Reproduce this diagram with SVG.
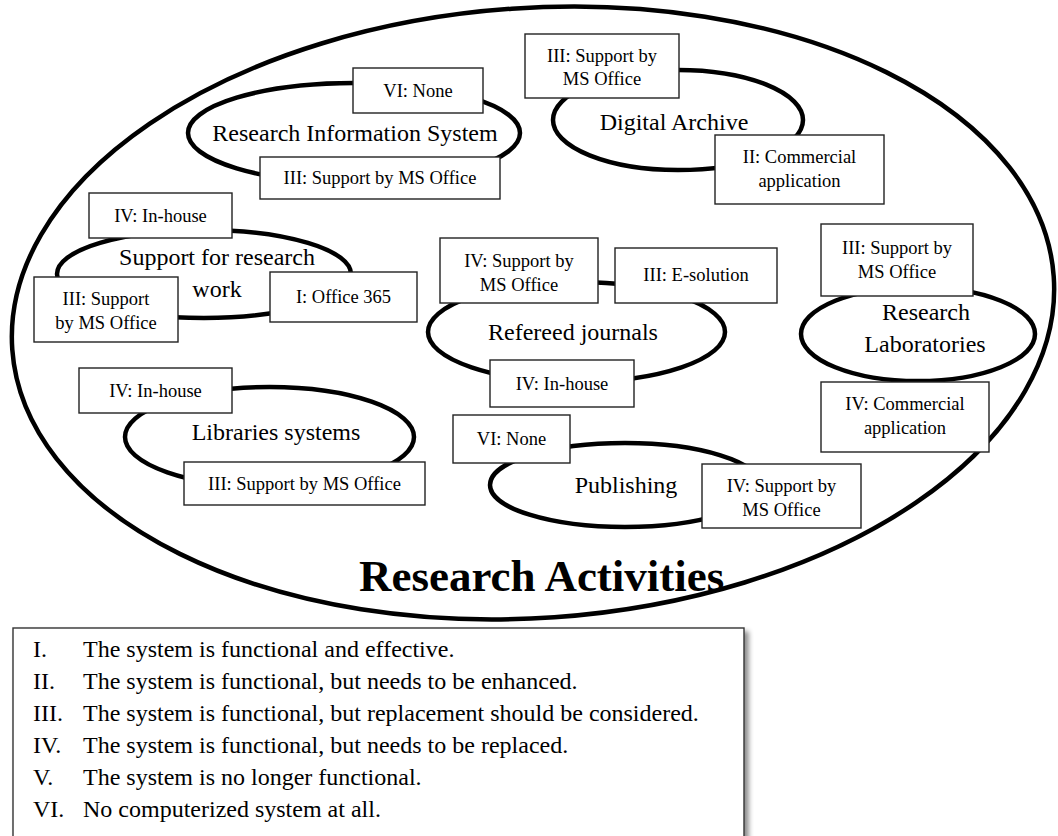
<svg xmlns="http://www.w3.org/2000/svg" width="1058" height="836" viewBox="0 0 1058 836">
<defs>
<style>
text{font-family:"Liberation Serif","Times New Roman",serif;fill:#000}
.sys{fill:#fff;stroke:#000;stroke-width:4.5}
.box{fill:#fff;stroke:#222;stroke-width:1.4}
.lbl{font-size:18.5px;text-anchor:middle}
.nm{font-size:24px;text-anchor:middle}
.leg{font-size:24px}
.title{font-size:45px;font-weight:bold}
</style>
<filter id="sh" x="-5%" y="-5%" width="115%" height="120%">
<feDropShadow dx="4" dy="4" stdDeviation="2.5" flood-color="#000" flood-opacity="0.45"/>
</filter>
</defs>
<rect width="1058" height="836" fill="#fff"/>
<g id="research-activities">
<ellipse cx="533" cy="313" rx="522" ry="305" transform="rotate(-4 533 313)" fill="none" stroke="#000" stroke-width="4.5"/>
<text class="title" x="359" y="591">Research Activities</text>
</g>
<g id="connectors"></g>
<g id="research-information-system">
<ellipse class="sys" cx="354" cy="133" rx="166" ry="50"/>
<text class="nm" x="355" y="141">Research Information System</text>
<rect class="box" x="353" y="68" width="130" height="45"/>
<text class="lbl" x="418" y="97">VI: None</text>
<rect class="box" x="260" y="157" width="240" height="42"/>
<text class="lbl" x="380" y="184">III: Support by MS Office</text>
</g>
<g id="digital-archive">
<ellipse class="sys" cx="678" cy="120" rx="125" ry="50"/>
<text class="nm" x="674" y="130">Digital Archive</text>
<rect class="box" x="525" y="34" width="154" height="64"/>
<text class="lbl" x="602" y="62">III: Support by</text>
<text class="lbl" x="602" y="85">MS Office</text>
<rect class="box" x="715" y="135" width="169" height="69"/>
<text class="lbl" x="799.5" y="163">II: Commercial</text>
<text class="lbl" x="799.5" y="187">application</text>
</g>
<g id="support-for-research-work">
<ellipse class="sys" cx="204" cy="274" rx="147" ry="44"/>
<text class="nm" x="217" y="265">Support for research</text>
<text class="nm" x="217" y="297">work</text>
<rect class="box" x="89" y="193" width="143" height="45"/>
<text class="lbl" x="160.5" y="222">IV: In-house</text>
<rect class="box" x="34" y="277" width="144" height="65"/>
<text class="lbl" x="106" y="305">III: Support</text>
<text class="lbl" x="106" y="329">by MS Office</text>
<rect class="box" x="270" y="272" width="147" height="50"/>
<text class="lbl" x="343.5" y="303">I: Office 365</text>
</g>
<g id="libraries-systems">
<ellipse class="sys" cx="269.5" cy="437" rx="144.5" ry="50"/>
<text class="nm" x="276" y="440">Libraries systems</text>
<rect class="box" x="79" y="368" width="153" height="45"/>
<text class="lbl" x="155.5" y="397">IV: In-house</text>
<rect class="box" x="184" y="462" width="241" height="43"/>
<text class="lbl" x="304.5" y="490">III: Support by MS Office</text>
</g>
<g id="refereed-journals">
<ellipse class="sys" cx="576.5" cy="332" rx="148.5" ry="50"/>
<text class="nm" x="573" y="340">Refereed journals</text>
<rect class="box" x="440" y="238" width="158" height="65"/>
<text class="lbl" x="519" y="267">IV: Support by</text>
<text class="lbl" x="519" y="291">MS Office</text>
<rect class="box" x="615" y="248" width="162" height="55"/>
<text class="lbl" x="696" y="281">III: E-solution</text>
<rect class="box" x="490" y="360" width="144" height="47"/>
<text class="lbl" x="562" y="390">IV: In-house</text>
</g>
<g id="research-laboratories">
<ellipse class="sys" cx="918" cy="334" rx="117" ry="47"/>
<text class="nm" x="926" y="320">Research</text>
<text class="nm" x="925" y="352">Laboratories</text>
<rect class="box" x="821" y="224" width="152" height="72"/>
<text class="lbl" x="897" y="254">III: Support by</text>
<text class="lbl" x="897" y="278">MS Office</text>
<rect class="box" x="821" y="382" width="168" height="70"/>
<text class="lbl" x="905" y="410">IV: Commercial</text>
<text class="lbl" x="905" y="434">application</text>
</g>
<g id="publishing">
<ellipse class="sys" cx="625" cy="485" rx="135" ry="42"/>
<text class="nm" x="626" y="493">Publishing</text>
<rect class="box" x="453" y="415" width="117" height="48"/>
<text class="lbl" x="511.5" y="445">VI: None</text>
<rect class="box" x="702" y="464" width="159" height="64"/>
<text class="lbl" x="781.5" y="492">IV: Support by</text>
<text class="lbl" x="781.5" y="516">MS Office</text>
</g>
<g id="legend">
<rect x="13" y="628" width="731" height="220" fill="#fff" stroke="#333" stroke-width="1.4" filter="url(#sh)"/>
<text class="leg" x="33" y="657">I.</text><text class="leg" x="83" y="657">The system is functional and effective.</text>
<text class="leg" x="33" y="689">II.</text><text class="leg" x="83" y="689">The system is functional, but needs to be enhanced.</text>
<text class="leg" x="33" y="721">III.</text><text class="leg" x="83" y="721">The system is functional, but replacement should be considered.</text>
<text class="leg" x="33" y="753">IV.</text><text class="leg" x="83" y="753">The system is functional, but needs to be replaced.</text>
<text class="leg" x="33" y="785">V.</text><text class="leg" x="83" y="785">The system is no longer functional.</text>
<text class="leg" x="33" y="817">VI.</text><text class="leg" x="83" y="817">No computerized system at all.</text>
</g>
</svg>
